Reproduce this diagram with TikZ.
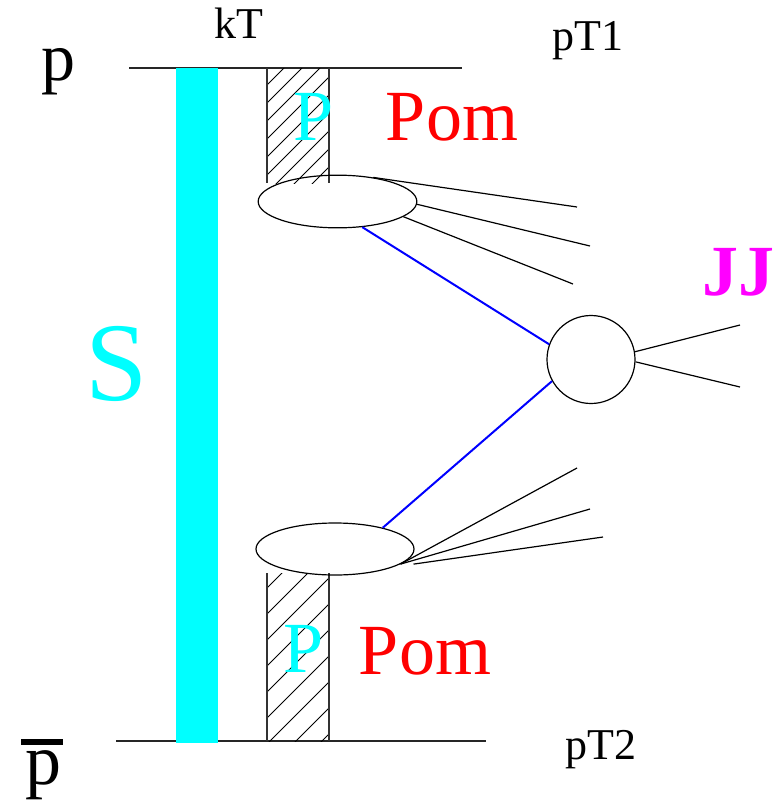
\documentclass[tikz,border=0pt]{standalone}
\usepackage{fontspec}
\setmainfont{Liberation Serif}
\usetikzlibrary{shapes.geometric,calc}
\definecolor{mycyan}{RGB}{0,255,255}
\definecolor{mymag}{RGB}{255,0,255}
\definecolor{myred}{RGB}{255,0,0}
\definecolor{myblue}{RGB}{0,0,255}
\tikzset{
  beam/.style={line width=1.1pt, draw=black!85},
  colline/.style={line width=1.1pt, draw=black!80},
  hatchline/.style={line width=0.7pt, draw=black},
  jetline/.style={line width=0.9pt, draw=black},
  bluelink/.style={line width=1.5pt, draw=myblue},
  blob/.style={ellipse, draw, line width=0.9pt, inner sep=0pt, minimum width=119pt, minimum height=39.5pt},
  vertex/.style={circle, draw, line width=0.9pt, inner sep=0pt, minimum size=66pt},
  lbl/.style={anchor=base, inner sep=0pt},
  small/.style={lbl, font=\fontsize{33}{36}\selectfont},
  big/.style={lbl, font=\fontsize{54}{60}\selectfont},
}
\begin{document}
\begin{tikzpicture}[x=0.75pt,y=-0.75pt]
\useasboundingbox (0,0) rectangle (773,807);
% horizontal beams
\coordinate (tl) at (129,68); \coordinate (tr) at (462,68);
\coordinate (bl) at (116,741); \coordinate (br) at (486,741);
\draw[beam] (tl) -- (tr);
\draw[beam] (bl) -- (br);
% cyan S bar
\fill[mycyan] (176,68) rectangle (218,743);
% top hatched column
\begin{scope}
  \clip (267,68) rectangle (329,183);
  \foreach \k in {334,352,...,530} {
    \draw[hatchline] (250,\k-250) -- (350,\k-350);
  }
\end{scope}
\draw[colline] (267,68) -- (267,183);
\draw[colline] (329,68) -- (329,183);
% bottom hatched column
\begin{scope}
  \clip (267,573) rectangle (329,741);
  \foreach \k in {803,829,...,1090} {
    \draw[hatchline] (250,\k-250) -- (350,\k-350);
  }
\end{scope}
\draw[colline] (267,573) -- (267,741);
\draw[colline] (329,573) -- (329,741);
% blobs and vertex
\node[blob] (e1) at (337.5,201.5) {};
\node[blob, minimum width=118.5pt, minimum height=39pt] (e2) at (335,549) {};
\node[vertex] (c) at (591,359.5) {};
% jets from upper blob
\coordinate (j1) at (577,207);
\coordinate (j2) at (590,246);
\coordinate (j3) at (573,284);
\draw[jetline] (e1.34) -- (j1);
\draw[jetline] (e1.-2) -- (j2);
\draw[jetline] (e1.-13) -- (j3);
% jets from lower blob
\coordinate (b1) at (577,468);
\coordinate (b2) at (590,509);
\coordinate (b3) at (603,537);
\coordinate (b3s) at ($(e2.-13)+(13,0)$);
\draw[jetline] (e2.-13) -- (b1);
\draw[jetline] (e2.-13) -- (b2);
\draw[jetline] (b3s) -- (b3);
% JJ jets
\coordinate (k1) at (740,325);
\coordinate (k2) at (740,387);
\draw[jetline] (c.10) -- (k1);
\draw[jetline] (c.-3) -- (k2);
% blue links
\draw[bluelink] (e1.-46) -- (c.160);
\draw[bluelink] (e2.24) -- (c.209);
% labels
\node[lbl, font=\fontsize{51}{56}\selectfont] (pt) at (58,80) {p};
\node[lbl, font=\fontsize{54}{60}\selectfont] (pb) at (43,784) {p};
\fill[black] (21,739) rectangle (63,745);
\node[small] (kt) at (239,38) {kT};
\node[small] (pt1) at (588,50) {pT1};
\node[small] (pt2) at (601,759) {pT2};
\node[lbl, font=\fontsize{84}{90}\selectfont, text=mycyan] (s) at (117,400) {S};
\node[lbl, font=\fontsize{54}{60}\selectfont\bfseries, text=mymag] (jj) at (738,295) {JJ};
\node[big, text=mycyan] (p1) at (314,140) {P};
\node[big, text=myred] (pom1) at (452,140) {Pom};
\node[big, text=mycyan] (p2) at (304,672) {P};
\node[big, text=myred] (pom2) at (425,674) {Pom};
\end{tikzpicture}
\end{document}
